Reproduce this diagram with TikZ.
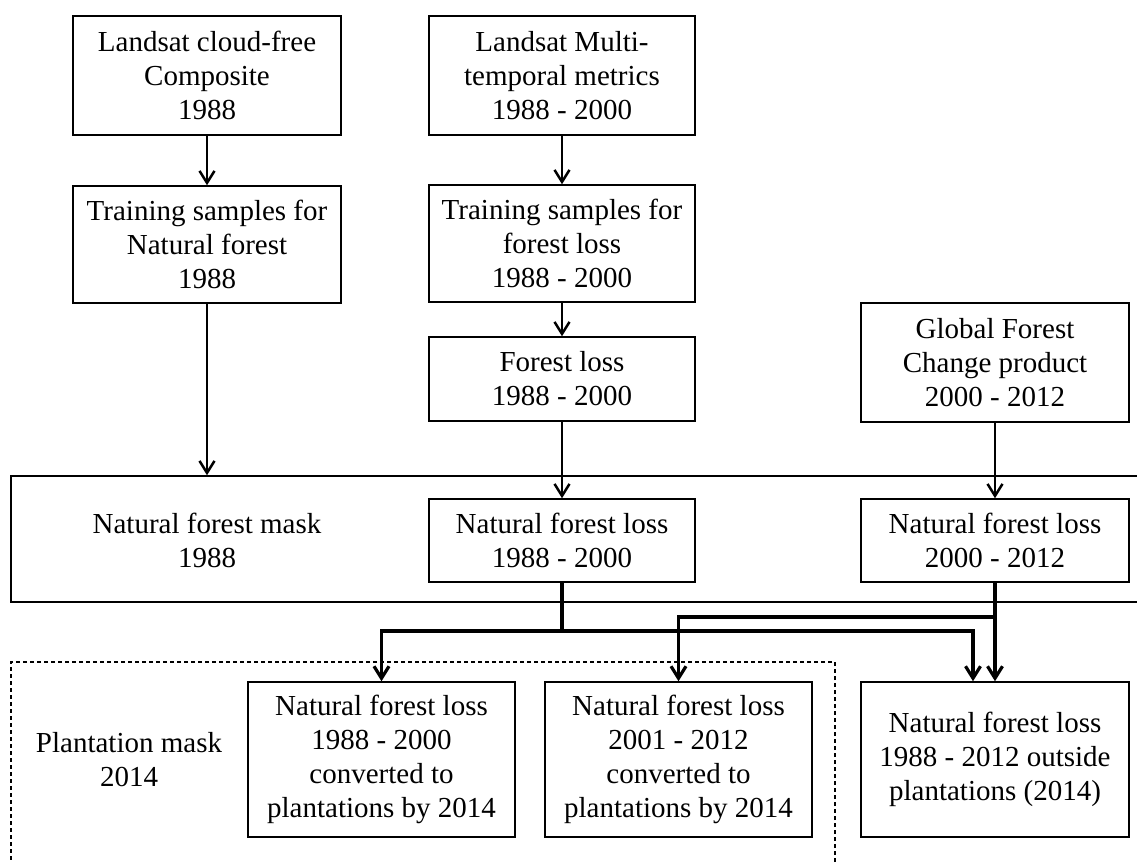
\documentclass[tikz,border=0pt]{standalone}
\usepackage{fontspec}
\setmainfont{Liberation Serif}
\usetikzlibrary{arrows.meta,calc,shadows}
\begin{document}
\begin{tikzpicture}[x=1pt,y=-1pt,
  shad/.style={drop shadow={shadow xshift=1.2pt, shadow yshift=-1.2pt, fill=black!45, opacity=1}},
  box/.style={draw=black, line width=1.5pt, fill=white, shad, align=center, inner sep=0pt, font=\fontsize{29}{34}\selectfont},
  lbl/.style={align=center, inner sep=0pt, font=\fontsize{29}{34}\selectfont},
  arr/.style={line width=2.5pt, -{Straight Barb[length=12pt,width=15pt]}},
  link/.style={line width=3.2pt},
  arrb/.style={line width=3.2pt, -{Straight Barb[length=12pt,width=15pt]}},
]
\clip (0,0) rectangle (1137,862);
\fill[white] (0,0) rectangle (1137,862);
% containers
\node[draw, line width=1.5pt, fill=white, shad, minimum width=1140pt, minimum height=126pt, inner sep=0pt] (mask) at (581,539) {};
\node[draw, line width=1.2pt, dash pattern=on 4pt off 3pt, minimum width=824pt, minimum height=216pt, inner sep=0pt] (plant) at (423,770) {};
% boxes
\node[box, minimum width=268pt, minimum height=119pt] (b1) at (207,75.5) {Landsat cloud-free\\Composite\\1988};
\node[box, minimum width=266pt, minimum height=119pt] (b2) at (562,75.5) {Landsat Multi-\\temporal metrics\\1988 - 2000};
\node[box, minimum width=268pt, minimum height=117pt] (b3) at (207,244.5) {Training samples for\\Natural forest\\1988};
\node[box, minimum width=266pt, minimum height=117pt] (b4) at (562,243.5) {Training samples for\\forest loss\\1988 - 2000};
\node[box, minimum width=266pt, minimum height=84pt] (b5) at (562,379) {Forest loss\\1988 - 2000};
\node[box, minimum width=268pt, minimum height=119pt] (b6) at (995,362.5) {Global Forest\\Change product\\2000 - 2012};
\node[lbl] (m) at (207,540) {Natural forest mask\\1988};
\node[box, minimum width=266pt, minimum height=83pt] (b7) at (562,540.5) {Natural forest loss\\1988 - 2000};
\node[box, minimum width=268pt, minimum height=83pt] (b8) at (995,540.5) {Natural forest loss\\2000 - 2012};
\node[lbl] (p) at (129,760) {Plantation mask\\2014};
\node[box, minimum width=267pt, minimum height=155pt] (bA) at (381.5,759.5) {Natural forest loss\\1988 - 2000\\converted to\\plantations by 2014};
\node[box, minimum width=267pt, minimum height=155pt] (bB) at (678.5,759.5) {Natural forest loss\\2001 - 2012\\converted to\\plantations by 2014};
\node[box, minimum width=268pt, minimum height=155pt] (bC) at (995,759.5) {Natural forest loss\\1988 - 2012 outside\\plantations (2014)};
% connectors
\draw[arr] (b1) -- (b3);
\draw[arr] (b2) -- (b4);
\draw[arr] (b4) -- (b5);
\draw[arr] (b3.south) -- (b3.south |- mask.north);
\draw[arr] (b5) -- (b7);
\draw[arr] (b6) -- (b8);
\coordinate (j1) at (562,631);
\coordinate (j2) at (995,617);
\coordinate (c1) at ($(bC.north)+(-22,0)$);
\draw[link] (b7.south) -- (j1);
\draw[arrb] (j1) -| (bA.north);
\draw[arrb] (j1) -| (c1);
\draw[arrb] (b8.south) -- (bC.north);
\draw[arrb] (j2) -| (bB.north);
\end{tikzpicture}
\end{document}
